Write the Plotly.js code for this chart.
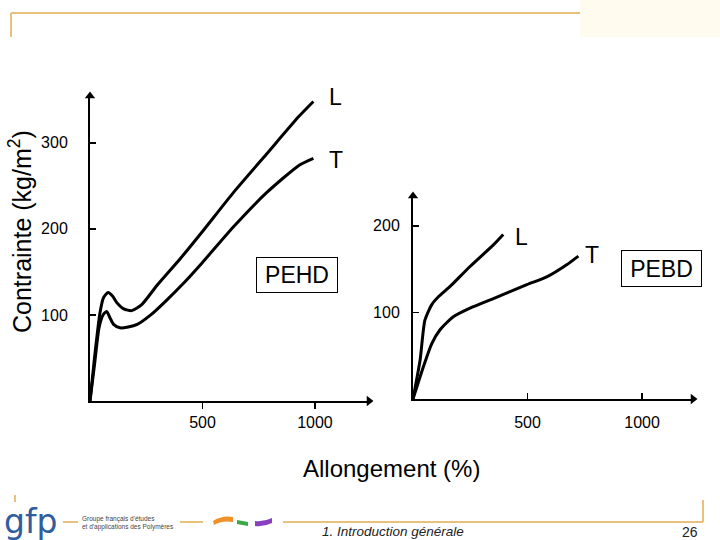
<!DOCTYPE html>
<html>
<head>
<meta charset="utf-8">
<script src="https://cdn.plot.ly/plotly-3.0.1.min.js"></script>
<style>html,body{margin:0;padding:0;background:#fff;}#chart{width:720px;height:540px;}</style>
</head>
<body>
<div id="chart"></div>
<script>
// ---- Data ----
// PEHD (left panel): elongation (%) vs stress
const pehdL_x = [0, 20, 44, 60, 80, 100, 120, 150, 185, 230, 300, 400, 500, 640, 785, 930, 993];
const pehdL_y = [0, 50, 102, 120, 126, 122, 114, 107, 105, 112, 135, 165, 197, 243, 287, 331, 348];
const pehdT_x = [0, 20, 40, 58, 74, 90, 105, 133, 170, 210, 270, 340, 420, 500, 640, 785, 930, 993];
const pehdT_y = [0, 42, 85, 100, 104, 96, 89, 85, 86, 89, 100, 117, 138, 161, 203, 242, 274, 282];
// PEBD (right panel)
const pebdL_x = [0, 31, 52, 82, 111, 162, 249, 351, 394];
const pebdL_y = [0, 45, 91, 109, 118, 130, 153, 178, 190];
const pebdT_x = [0, 45, 82, 118, 176, 249, 351, 497, 584, 671, 722];
const pebdT_y = [0, 37, 64, 80, 95, 105, 116, 132, 141, 155, 165];

const leftXTicks = [500, 1000];
const leftYTicks = [100, 200, 300];
const rightXTicks = [500, 1000];
const rightYTicks = [100, 200];

const curveNames = ['L', 'T'];
const panelNames = ['PEHD', 'PEBD'];
const yTitle = 'Contrainte (kg/m<sup>2</sup>)';
const xTitle = 'Allongement (%)';
const footerText = '1. Introduction générale';
const pageNum = '26';
const logoText = 'gfp';
const logoSub = 'Groupe français d\'études<br>et d\'applications des Polymères';

// ---- Helpers ----
const W = 720, H = 540;
const px = x => x / W;
const py = y => 1 - y / H;
const P = (x, y) => px(x) + ',' + py(y);
const FONT = 'Arial, "Liberation Sans", sans-serif';
const lineStyle = {color: '#000', width: 3, shape: 'spline', smoothing: 0.6};

const xR1 = [0, 1258], yR1 = [0, 359];
const xR2 = [0, 1240], yR2 = [0, 239];

const head = (x, y, xa, ya, sym) => ({x: [x], y: [y], xaxis: xa, yaxis: ya, mode: 'markers', cliponaxis: false,
  marker: {symbol: sym, size: 9, color: '#000', line: {width: 0}}, hoverinfo: 'skip'});

const traces = [
  {x: pehdL_x, y: pehdL_y, xaxis: 'x', yaxis: 'y', mode: 'lines', line: lineStyle, cliponaxis: false, name: 'PEHD L'},
  {x: pehdT_x, y: pehdT_y, xaxis: 'x', yaxis: 'y', mode: 'lines', line: lineStyle, cliponaxis: false, name: 'PEHD T'},
  {x: pebdL_x, y: pebdL_y, xaxis: 'x2', yaxis: 'y2', mode: 'lines', line: lineStyle, cliponaxis: false, name: 'PEBD L'},
  {x: pebdT_x, y: pebdT_y, xaxis: 'x2', yaxis: 'y2', mode: 'lines', line: lineStyle, cliponaxis: false, name: 'PEBD T'},
  head(0, yR1[1], 'x', 'y', 'triangle-up'),
  head(xR1[1], 0, 'x', 'y', 'triangle-right'),
  head(0, yR2[1], 'x2', 'y2', 'triangle-up'),
  head(xR2[1], 0, 'x2', 'y2', 'triangle-right')
];

const axBase = {
  showgrid: false, zeroline: false, showline: true, linecolor: '#000', linewidth: 2,
  ticklen: 6, tickwidth: 1.5, tickcolor: '#000', tickmode: 'array',
  tickfont: {family: FONT, size: 16, color: '#000'}, fixedrange: true
};

const last = a => a[a.length - 1];
const lab = (x, y, xr, yr, t, xs, ys) => ({x, y, xref: xr, yref: yr, text: t, showarrow: false,
  xanchor: 'left', yanchor: 'middle', xshift: xs, yshift: ys, font: {family: FONT, size: 23, color: '#000'}});
const ptext = (x, y, t, size, color, extra) => Object.assign({x: px(x), y: py(y), xref: 'paper', yref: 'paper',
  text: t, showarrow: false, xanchor: 'center', yanchor: 'middle', font: {family: FONT, size, color}}, extra || {});

const annotations = [
  lab(last(pehdL_x), last(pehdL_y), 'x', 'y', curveNames[0], 14, 4),
  lab(last(pehdT_x), last(pehdT_y), 'x', 'y', curveNames[1], 14, -2),
  lab(last(pebdL_x), last(pebdL_y), 'x2', 'y2', curveNames[0], 10, -3),
  lab(last(pebdT_x), last(pebdT_y), 'x2', 'y2', curveNames[1], 5, 1),
  ptext(297, 275, panelNames[0], 23, '#000', {width: 80, height: 34, bordercolor: '#000', borderwidth: 1, borderpad: 0}),
  ptext(661.5, 268.5, panelNames[1], 23, '#000', {width: 79, height: 35, bordercolor: '#000', borderwidth: 1, borderpad: 0}),
  ptext(20, 232, yTitle, 25, '#000', {textangle: -90}),
  ptext(392, 468, xTitle, 24, '#000'),
  ptext(393, 531, '<i>' + footerText + '</i>', 13.5, '#222'),
  ptext(690, 532, pageNum, 14, '#222'),
  ptext(31, 521, logoText, 33, '#2f5d9e', {font: {family: '"DejaVu Sans", sans-serif', size: 33, color: '#2f5d9e'}}),
  ptext(80, 523, logoSub, 6.5, '#444', {xanchor: 'left', align: 'left'})
];

const gold = '#e2ac52';
const shapes = [
  {type: 'rect', xref: 'paper', yref: 'paper', x0: px(580), x1: px(720), y0: py(37), y1: py(0), fillcolor: '#fffbee', line: {width: 0}, layer: 'below'},
  {type: 'line', xref: 'paper', yref: 'paper', x0: px(11), x1: px(580), y0: py(13), y1: py(13), line: {color: gold, width: 1.5}},
  {type: 'line', xref: 'paper', yref: 'paper', x0: px(11), x1: px(11), y0: py(13), y1: py(37), line: {color: gold, width: 1.5}},
  {type: 'line', xref: 'paper', yref: 'paper', x0: px(15), x1: px(15), y0: py(495), y1: py(502), line: {color: gold, width: 1.5}},
  {type: 'line', xref: 'paper', yref: 'paper', x0: px(63), x1: px(78), y0: py(522), y1: py(522), line: {color: gold, width: 1.5}},
  {type: 'line', xref: 'paper', yref: 'paper', x0: px(180), x1: px(203), y0: py(522), y1: py(522), line: {color: gold, width: 1.5}},
  {type: 'line', xref: 'paper', yref: 'paper', x0: px(283), x1: px(703), y0: py(522), y1: py(522), line: {color: gold, width: 1.5}},
  {type: 'line', xref: 'paper', yref: 'paper', x0: px(703), x1: px(703), y0: py(500), y1: py(522), line: {color: gold, width: 1.5}},
  {type: 'path', xref: 'paper', yref: 'paper', path: 'M' + P(213, 521) + ' Q' + P(222, 515) + ' ' + P(233, 517) + ' L' + P(233, 522) + ' Q' + P(222, 520) + ' ' + P(214, 525) + ' Z', fillcolor: '#f0902a', line: {width: 0}},
  {type: 'path', xref: 'paper', yref: 'paper', path: 'M' + P(237, 520) + ' L' + P(248, 522) + ' L' + P(248, 526) + ' L' + P(237, 524) + ' Z', fillcolor: '#3aa845', line: {width: 0}},
  {type: 'path', xref: 'paper', yref: 'paper', path: 'M' + P(255, 521) + ' Q' + P(264, 522) + ' ' + P(272, 518) + ' L' + P(272, 523) + ' Q' + P(264, 527) + ' ' + P(255, 526) + ' Z', fillcolor: '#8a3fc0', line: {width: 0}}
];

const layout = {
  width: W, height: H, margin: {l: 0, r: 0, t: 0, b: 0},
  paper_bgcolor: '#fff', plot_bgcolor: 'rgba(0,0,0,0)', showlegend: false, hovermode: false,
  xaxis: Object.assign({}, axBase, {domain: [px(90), px(369)], range: xR1.map((v, i) => i ? v * 279 / 283 : v), anchor: 'y', ticks: 'outside', tickvals: leftXTicks, ticktext: leftXTicks.map(String)}),
  yaxis: Object.assign({}, axBase, {domain: [py(401), py(96)], range: yR1.map((v, i) => i ? v * 305 / 309 : v), anchor: 'x', ticks: 'inside', tickvals: leftYTicks, ticktext: leftYTicks.map(String), ticklabelstandoff: 17}),
  xaxis2: Object.assign({}, axBase, {domain: [px(413), px(693)], range: xR2.map((v, i) => i ? v * 280 / 284 : v), anchor: 'y2', ticks: 'inside', tickvals: rightXTicks, ticktext: rightXTicks.map(String), ticklabelstandoff: 8}),
  yaxis2: Object.assign({}, axBase, {domain: [py(399), py(196)], range: yR2.map((v, i) => i ? v * 203 / 207 : v), anchor: 'x2', ticks: 'inside', tickvals: rightYTicks, ticktext: rightYTicks.map(String), ticklabelstandoff: 8}),
  annotations, shapes
};
// arrowheads sit at the (shortened) range ends
traces[4].y = [layout.yaxis.range[1]];
traces[5].x = [layout.xaxis.range[1]];
traces[6].y = [layout.yaxis2.range[1]];
traces[7].x = [layout.xaxis2.range[1]];

Plotly.newPlot('chart', traces, layout, {displayModeBar: false, staticPlot: true});
</script>
</body>
</html>
